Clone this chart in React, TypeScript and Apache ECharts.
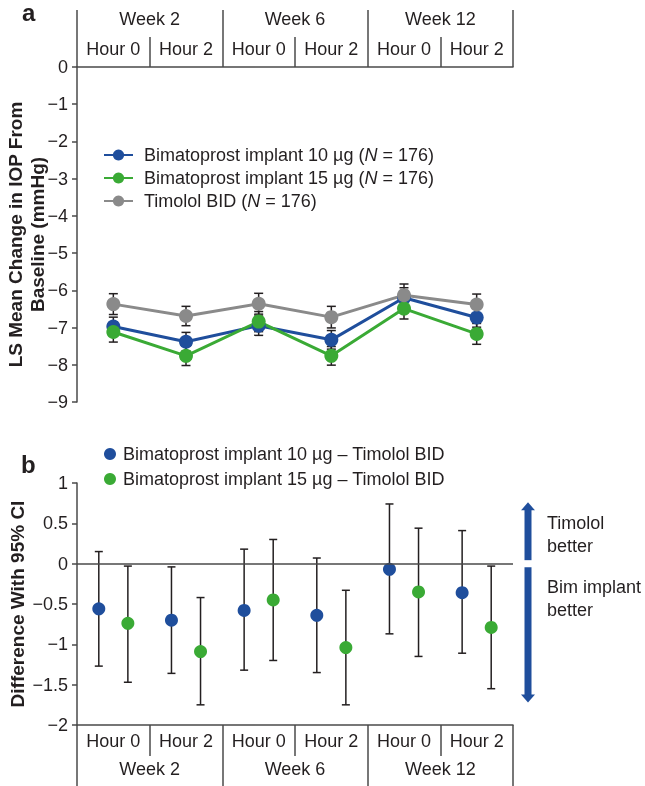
import React, { useEffect, useRef } from 'react';
import * as echarts from 'echarts';

// ---------- data ----------
const hourLabels = ['Hour 0', 'Hour 2', 'Hour 0', 'Hour 2', 'Hour 0', 'Hour 2'];
const weekLabels = ['Week 2', 'Week 6', 'Week 12'];

const namesA = [
  'Bimatoprost implant 10 µg (N = 176)',
  'Bimatoprost implant 15 µg (N = 176)',
  'Timolol BID (N = 176)',
];
const ls10 = [-6.97, -7.38, -6.95, -7.33, -6.2, -6.73];
const ls15 = [-7.12, -7.76, -6.84, -7.76, -6.49, -7.17];
const lsTim = [-6.37, -6.69, -6.36, -6.72, -6.13, -6.38];
const se10 = [0.25, 0.25, 0.26, 0.25, 0.27, 0.26];
const se15 = [0.27, 0.26, 0.27, 0.25, 0.28, 0.28];
const seTim = [0.28, 0.26, 0.28, 0.29, 0.3, 0.28];

const namesB = ['Bimatoprost implant 10 µg – Timolol BID', 'Bimatoprost implant 15 µg – Timolol BID'];
const diff10 = [-0.56, -0.7, -0.58, -0.64, -0.07, -0.36];
const diff10Lo = [-1.27, -1.36, -1.32, -1.35, -0.87, -1.11];
const diff10Hi = [0.15, -0.04, 0.18, 0.07, 0.74, 0.41];
const diff15 = [-0.74, -1.09, -0.45, -1.04, -0.35, -0.79];
const diff15Lo = [-1.47, -1.75, -1.2, -1.75, -1.15, -1.55];
const diff15Hi = [-0.03, -0.42, 0.3, -0.33, 0.44, -0.03];

// ---------- style ----------
const BLUE = '#1f4e9c';
const GREEN = '#3aaa35';
const GRAY = '#8a8a8a';
const INK = '#231f20';
const AXIS = '#4a4a4a';
const FONT = '"Liberation Sans", Arial, Helvetica, sans-serif';
const OFFSET_B = 0.2;

const minus = (v: number) => String(v).replace('-', '\u2212');

const errRender = (capHalf: number) => (params: any, api: any) => {
  const x = api.value(0);
  const lo = api.coord([x, api.value(1)]);
  const hi = api.coord([x, api.value(2)]);
  const style = { stroke: INK, lineWidth: 1.5 };
  return {
    type: 'group',
    children: [
      { type: 'line', shape: { x1: lo[0], y1: lo[1], x2: hi[0], y2: hi[1] }, style },
      { type: 'line', shape: { x1: lo[0] - capHalf, y1: lo[1], x2: lo[0] + capHalf, y2: lo[1] }, style },
      { type: 'line', shape: { x1: hi[0] - capHalf, y1: hi[1], x2: hi[0] + capHalf, y2: hi[1] }, style },
    ],
  };
};

const headerAxis = (
  gridIndex: number,
  position: 'top' | 'bottom',
  data: string[],
  offset: number,
  tickLen: number,
  margin: number,
  showLine: boolean
) => ({
  type: 'category',
  gridIndex,
  position,
  offset,
  data,
  boundaryGap: true,
  axisLine: { show: showLine, onZero: false, lineStyle: { color: AXIS, width: 1.5 } },
  axisTick: { show: true, interval: 0, length: tickLen, alignWithLabel: false, lineStyle: { color: AXIS, width: 1.5 } },
  axisLabel: { interval: 0, margin, fontSize: 18, color: INK, fontFamily: FONT },
  splitLine: { show: false },
});

export default function App() {
  const ref = useRef<HTMLDivElement>(null);

  useEffect(() => {
    document.body.style.margin = '0';
    if (!ref.current) return;
    const chart = echarts.init(ref.current, undefined, { renderer: 'svg' });

    const ptsA = (vals: number[]) => vals.map((v, i) => [i + 0.5, v]);
    const errA = (vals: number[], se: number[]) => vals.map((v, i) => [i + 0.5, v - se[i], v + se[i]]);
    const ptsB = (vals: number[], off: number) => vals.map((v, i) => [i + 0.5 + off, v]);
    const errB = (lo: number[], hi: number[], off: number) => lo.map((l, i) => [i + 0.5 + off, l, hi[i]]);

    const lineSeries = (name: string, vals: number[], color: string) => ({
      type: 'line',
      name,
      xAxisIndex: 0,
      yAxisIndex: 0,
      data: ptsA(vals),
      symbol: 'circle',
      symbolSize: 14,
      itemStyle: { color, opacity: 1 },
      lineStyle: { color, width: 3 },
      z: 3,
    });
    const errSeriesA = (vals: number[], se: number[]) => ({
      type: 'custom',
      xAxisIndex: 0,
      yAxisIndex: 0,
      renderItem: errRender(4.5),
      data: errA(vals, se),
      encode: { x: 0, y: [1, 2] },
      z: 2,
      silent: true,
    });
    const errSeriesB = (lo: number[], hi: number[], off: number) => ({
      type: 'custom',
      xAxisIndex: 3,
      yAxisIndex: 1,
      renderItem: errRender(4),
      data: errB(lo, hi, off),
      encode: { x: 0, y: [1, 2] },
      z: 2,
      silent: true,
    });
    const scatterB = (name: string, vals: number[], off: number, color: string) => ({
      type: 'scatter',
      name,
      xAxisIndex: 3,
      yAxisIndex: 1,
      data: ptsB(vals, off),
      symbol: 'circle',
      symbolSize: 13,
      itemStyle: { color, opacity: 1 },
      z: 3,
    });

    chart.setOption({
      animation: false,
      textStyle: { fontFamily: FONT },
      grid: [
        { left: 77, top: 67, width: 436, height: 335, containLabel: false, outerBoundsMode: 'none' },
        { left: 77, top: 483, width: 436, height: 242, containLabel: false, outerBoundsMode: 'none' },
      ],
      xAxis: [
        { type: 'value', gridIndex: 0, min: 0, max: 6, show: false },
        headerAxis(0, 'top', hourLabels, 0, 30, 9, true),
        headerAxis(0, 'top', weekLabels, 30, 27, 9, false),
        { type: 'value', gridIndex: 1, min: 0, max: 6, show: false },
        headerAxis(1, 'bottom', hourLabels, 0, 31, 7, true),
        headerAxis(1, 'bottom', weekLabels, 31, 30, 4, false),
      ],
      yAxis: [
        {
          type: 'value',
          gridIndex: 0,
          min: -9,
          max: 0,
          interval: 1,
          axisLine: { show: true, lineStyle: { color: AXIS, width: 1.5 } },
          axisTick: { show: true, length: 5, lineStyle: { color: AXIS, width: 1.5 } },
          axisLabel: { fontSize: 18, color: INK, margin: 9, formatter: minus },
          splitLine: { show: false },
          name: 'LS Mean Change in IOP From\nBaseline (mmHg)',
          nameLocation: 'middle',
          nameGap: 29,
          nameMoveOverlap: false,
          nameTextStyle: { fontSize: 19, fontWeight: 'bold', color: INK, lineHeight: 22 },
        },
        {
          type: 'value',
          gridIndex: 1,
          min: -2,
          max: 1,
          interval: 0.5,
          axisLine: { show: true, lineStyle: { color: AXIS, width: 1.5 } },
          axisTick: { show: true, length: 5, lineStyle: { color: AXIS, width: 1.5 } },
          axisLabel: { fontSize: 18, color: INK, margin: 9, formatter: minus },
          splitLine: { show: false },
          name: 'Difference With 95% CI',
          nameLocation: 'middle',
          nameGap: 50,
          nameMoveOverlap: false,
          nameTextStyle: { fontSize: 19, fontWeight: 'bold', color: INK },
        },
      ],
      legend: [
        {
          data: namesA,
          orient: 'vertical',
          left: 98,
          top: 141,
          itemWidth: 29,
          itemHeight: 14,
          itemGap: 5,
          selectedMode: false,
          textStyle: {
            fontSize: 18,
            color: INK,
            padding: [0, 0, 0, 6],
            rich: { n: { fontStyle: 'italic', fontSize: 18, color: INK, fontFamily: FONT } },
          },
          formatter: (name: string) => name.replace('(N =', '({n|N} ='),
        },
        {
          data: namesB,
          orient: 'vertical',
          left: 99,
          top: 440,
          itemWidth: 12,
          itemHeight: 12,
          itemGap: 7,
          icon: 'circle',
          selectedMode: false,
          textStyle: { fontSize: 18, color: INK, padding: [0, 0, 0, 2] },
        },
      ],
      series: [
        errSeriesA(ls10, se10),
        errSeriesA(ls15, se15),
        errSeriesA(lsTim, seTim),
        lineSeries(namesA[0], ls10, BLUE),
        lineSeries(namesA[1], ls15, GREEN),
        lineSeries(namesA[2], lsTim, GRAY),
        {
          ...errSeriesB(diff10Lo, diff10Hi, -OFFSET_B),
          markLine: {
            silent: true,
            symbol: 'none',
            label: { show: false },
            lineStyle: { color: AXIS, width: 1.5, type: 'solid' },
            data: [{ yAxis: 0 }],
          },
        },
        errSeriesB(diff15Lo, diff15Hi, OFFSET_B),
        scatterB(namesB[0], diff10, -OFFSET_B, BLUE),
        scatterB(namesB[1], diff15, OFFSET_B, GREEN),
      ],
    });

    // annotation arrow, placed by the panel-b y scale
    const yPix = (v: number) => chart.convertToPixel({ yAxisIndex: 1 }, v) as number;
    const ax = 528;
    const top = yPix(0.76);
    const bot = yPix(-1.72);
    const zero = yPix(0);
    const head = 8;
    const hw = 7;
    const sw = 3.5;
    chart.setOption({
      graphic: [
        { type: 'text', left: 22, top: 0, style: { text: 'a', fontSize: 24, lineHeight: 14, fontWeight: 'bold', fill: INK, fontFamily: FONT } },
        { type: 'text', left: 21, top: 452, style: { text: 'b', fontSize: 24, lineHeight: 14, fontWeight: 'bold', fill: INK, fontFamily: FONT } },
        { type: 'polygon', shape: { points: [[ax - hw, top + head], [ax + hw, top + head], [ax, top]] }, style: { fill: BLUE } },
        { type: 'rect', shape: { x: ax - sw, y: top + head - 1, width: sw * 2, height: zero - 3.5 - (top + head - 1) }, style: { fill: BLUE } },
        { type: 'rect', shape: { x: ax - sw, y: zero + 3.5, width: sw * 2, height: bot - head + 1 - (zero + 3.5) }, style: { fill: BLUE } },
        { type: 'polygon', shape: { points: [[ax - hw, bot - head], [ax + hw, bot - head], [ax, bot]] }, style: { fill: BLUE } },
        { type: 'text', left: 547, top: zero - 52, style: { text: 'Timolol\nbetter', fontSize: 18, lineHeight: 23, fill: INK, fontFamily: FONT } },
        { type: 'text', left: 547, top: zero + 12, style: { text: 'Bim implant\nbetter', fontSize: 18, lineHeight: 23, fill: INK, fontFamily: FONT } },
      ],
    });

    return () => chart.dispose();
  }, []);

  return <div ref={ref} style={{ position: 'fixed', left: 0, top: 0, width: 645, height: 786 }} />;
}
